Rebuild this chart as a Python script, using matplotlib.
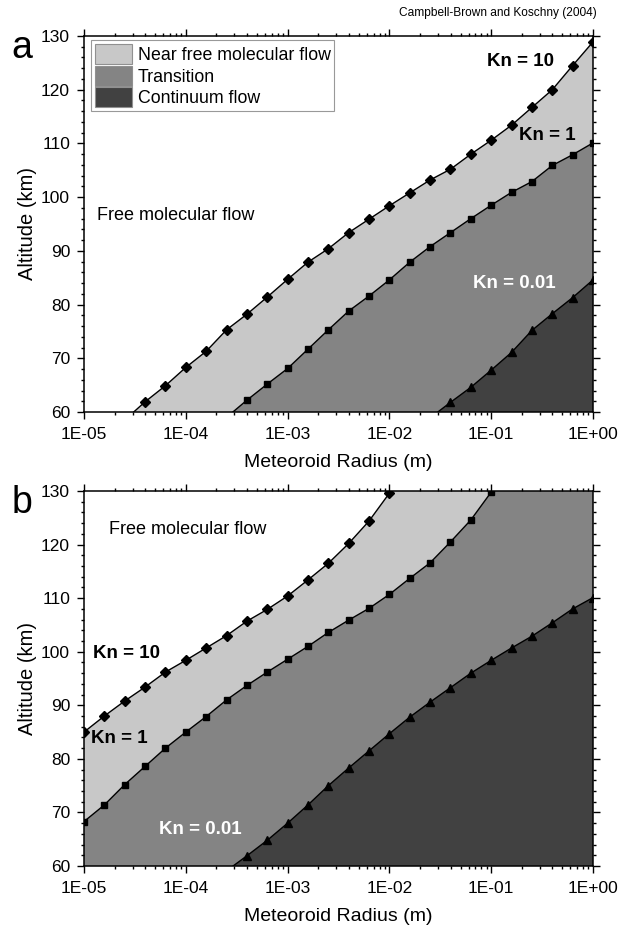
import matplotlib
matplotlib.use('Agg')
import matplotlib.pyplot as plt
import numpy as np
from matplotlib.patches import Patch
from matplotlib.ticker import FixedLocator, MultipleLocator, NullFormatter

plt.rcParams['font.family'] = ['Liberation Sans', 'DejaVu Sans']

# ---------------- data ----------------
# log10(radius in m) of computed points, and altitude (km)
a_kn10_exp = [-4.6, -4.4, -4.2, -4.0, -3.8, -3.6, -3.4, -3.2, -3.0, -2.8, -2.6, -2.4,
              -2.2, -2.0, -1.8, -1.6, -1.4, -1.2, -1.0, -0.8, -0.6, -0.4, -0.2, 0.0]
a_kn10_alt = [58.5, 61.9, 64.9, 68.3, 71.3, 75.3, 78.2, 81.4, 84.7, 87.9, 90.4, 93.4,
              95.9, 98.4, 100.8, 103.2, 105.2, 108.0, 110.6, 113.4, 116.7, 120.0, 124.5, 128.9]

a_kn1_exp = [-3.6, -3.4, -3.2, -3.0, -2.8, -2.6, -2.4, -2.2, -2.0, -1.8, -1.6, -1.4,
             -1.2, -1.0, -0.8, -0.6, -0.4, -0.2, 0.0]
a_kn1_alt = [59.0, 62.2, 65.2, 68.1, 71.7, 75.3, 78.8, 81.6, 84.6, 87.9, 90.8, 93.4,
             96.0, 98.5, 100.9, 102.9, 105.9, 107.9, 110.1]

a_kn001_exp = [-1.6, -1.4, -1.2, -1.0, -0.8, -0.6, -0.4, -0.2, 0.0]
a_kn001_alt = [58.9, 61.8, 64.6, 67.8, 71.1, 75.2, 78.3, 81.3, 84.6]

b_kn10_exp = [-5.0, -4.8, -4.6, -4.4, -4.2, -4.0, -3.8, -3.6, -3.4, -3.2, -3.0, -2.8,
              -2.6, -2.4, -2.2, -2.0, -1.8]
b_kn10_alt = [85.0, 88.0, 90.8, 93.4, 96.2, 98.4, 100.7, 103.0, 105.7, 107.9, 110.4, 113.4,
              116.5, 120.2, 124.4, 129.6, 135.5]

b_kn1_exp = [-5.0, -4.8, -4.6, -4.4, -4.2, -4.0, -3.8, -3.6, -3.4, -3.2, -3.0, -2.8,
             -2.6, -2.4, -2.2, -2.0, -1.8, -1.6, -1.4, -1.2, -1.0, -0.8]
b_kn1_alt = [68.3, 71.4, 75.2, 78.6, 82.0, 85.0, 87.9, 91.0, 93.7, 96.2, 98.6, 101.0,
             103.6, 105.9, 108.1, 110.7, 113.7, 116.6, 120.5, 124.6, 129.8, 135.5]

b_kn001_exp = [-3.6, -3.4, -3.2, -3.0, -2.8, -2.6, -2.4, -2.2, -2.0, -1.8, -1.6, -1.4,
               -1.2, -1.0, -0.8, -0.6, -0.4, -0.2, 0.0]
b_kn001_alt = [59.1, 61.9, 64.8, 68.0, 71.4, 75.0, 78.3, 81.5, 84.7, 87.8, 90.6, 93.3,
               96.0, 98.4, 100.7, 102.9, 105.4, 108.0, 110.1]

x_tick_exp = [-5, -4, -3, -2, -1, 0]
x_tick_labels = ['1E-05', '1E-04', '1E-03', '1E-02', '1E-01', '1E+00']
y_ticks = [60, 70, 80, 90, 100, 110, 120, 130]

legend_labels = ['Near free molecular flow', 'Transition', 'Continuum flow']
C_LIGHT, C_MID, C_DARK = '#c8c8c8', '#848484', '#414141'

# ---------------- figure ----------------
fig = plt.figure(figsize=(6.2, 9.34), dpi=100)
W, H = 620, 934
def axes_px(l, t, r, b):
    return fig.add_axes([l / W, 1 - b / H, (r - l) / W, (b - t) / H])

ax_a = axes_px(84, 36, 593, 412)
ax_b = axes_px(84, 491, 593, 866)

XMIN, XMAX, YMIN, YMAX = 1e-5, 1.0, 60, 130

narrow = ['Liberation Sans Narrow', 'Liberation Sans', 'DejaVu Sans']
KN_SIZE = 13.5

def region(ax, exps, alts, color):
    x = 10.0 ** np.array(exps)
    y = np.array(alts)
    px = np.r_[x, XMAX, XMAX, x[0]]
    py = np.r_[y, y[-1], 0, 0]
    ax.fill(px, py, color=color, lw=0, zorder=1)

def curve(ax, exps, alts, marker, ms):
    x = 10.0 ** np.array(exps)
    ax.plot(x, alts, '-', color='black', lw=1.0, marker=marker, ms=ms,
            mfc='black', mec='black', zorder=3)

def style(ax):
    ax.set_xscale('log')
    ax.set_xlim(XMIN, XMAX)
    ax.set_ylim(YMIN, YMAX)
    ax.set_xticks([10.0 ** e for e in x_tick_exp])
    ax.set_xticklabels(x_tick_labels)
    minors = [m * 10.0 ** e for e in x_tick_exp[:-1] for m in range(2, 10)]
    ax.xaxis.set_minor_locator(FixedLocator(minors))
    ax.xaxis.set_minor_formatter(NullFormatter())
    ax.set_yticks(y_ticks)
    ax.yaxis.set_minor_locator(MultipleLocator(2))
    ax.tick_params(which='both', direction='out', top=True, right=True,
                   labelsize=12.5, width=1.0, colors='black')
    ax.tick_params(which='major', length=5)
    ax.tick_params(axis='x', which='major', pad=5.5)
    ax.tick_params(axis='y', which='major', pad=5)
    ax.tick_params(which='minor', length=2.5)
    for s in ax.spines.values():
        s.set_linewidth(1.1)
        s.set_zorder(5)
    ax.set_xlabel('Meteoroid Radius (m)', fontsize=14, labelpad=9)
    ax.set_ylabel('Altitude (km)', fontsize=14.5, labelpad=3)
    ax.set_facecolor('white')

# ----- panel a -----
region(ax_a, a_kn10_exp, a_kn10_alt, C_LIGHT)
region(ax_a, a_kn1_exp, a_kn1_alt, C_MID)
region(ax_a, a_kn001_exp, a_kn001_alt, C_DARK)
curve(ax_a, a_kn10_exp, a_kn10_alt, 'D', 4.8)
curve(ax_a, a_kn1_exp, a_kn1_alt, 's', 4.2)
curve(ax_a, a_kn001_exp, a_kn001_alt, '^', 5.2)
style(ax_a)

ax_a.text(10 ** -4.87, 96.6, 'Free molecular flow', fontsize=13, ha='left', va='center')
ax_a.text(10 ** -0.71, 125.3, 'Kn = 10', fontsize=KN_SIZE, fontweight='bold', family=narrow,
          ha='center', va='center')
ax_a.text(10 ** -0.45, 111.4, 'Kn = 1', fontsize=KN_SIZE, fontweight='bold', family=narrow,
          ha='center', va='center')
ax_a.text(10 ** -0.77, 84.0, 'Kn = 0.01', fontsize=KN_SIZE, fontweight='bold', family=narrow,
          color='white', ha='center', va='center')

handles = [Patch(facecolor=c, edgecolor='#909090', lw=0.8) for c in (C_LIGHT, C_MID, C_DARK)]
leg = ax_a.legend(handles, legend_labels, loc='upper left',
                  bbox_to_anchor=(7 / 509, 1 - 4 / 376), fontsize=12.8,
                  handlelength=2.1, handleheight=1.35, labelspacing=0.1,
                  borderpad=0.22, handletextpad=0.3, borderaxespad=0,
                  frameon=True, fancybox=False, framealpha=1)
leg.get_frame().set_edgecolor('#999999')
leg.get_frame().set_linewidth(0.8)
leg.set_zorder(6)

# ----- panel b -----
region(ax_b, b_kn10_exp, b_kn10_alt, C_LIGHT)
region(ax_b, b_kn1_exp, b_kn1_alt, C_MID)
region(ax_b, b_kn001_exp, b_kn001_alt, C_DARK)
curve(ax_b, b_kn10_exp, b_kn10_alt, 'D', 4.8)
curve(ax_b, b_kn1_exp, b_kn1_alt, 's', 4.2)
curve(ax_b, b_kn001_exp, b_kn001_alt, '^', 5.2)
style(ax_b)

ax_b.text(10 ** -4.75, 122.8, 'Free molecular flow', fontsize=13, ha='left', va='center')
ax_b.text(10 ** -4.58, 99.7, 'Kn = 10', fontsize=KN_SIZE, fontweight='bold', family=narrow,
          ha='center', va='center')
ax_b.text(10 ** -4.65, 83.8, 'Kn = 1', fontsize=KN_SIZE, fontweight='bold', family=narrow,
          ha='center', va='center')
ax_b.text(10 ** -3.86, 66.9, 'Kn = 0.01', fontsize=KN_SIZE, fontweight='bold', family=narrow,
          color='white', ha='center', va='center')

# panel letters and credit
fig.text(22 / W, 1 - 48 / H, 'a', fontsize=27, ha='center', va='center')
fig.text(22 / W, 1 - 503 / H, 'b', fontsize=27, ha='center', va='center')
fig.text(597 / W, 1 - 13 / H, 'Campbell-Brown and Koschny (2004)', fontsize=8.6,
         ha='right', va='center')

fig.savefig('out.png', dpi=100)
